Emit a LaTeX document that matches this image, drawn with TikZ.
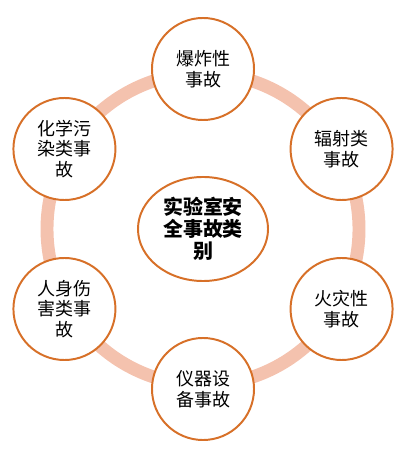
\documentclass[tikz,border=0pt]{standalone}
\usepackage{fontspec}
\newfontfamily\cjk{Noto Sans CJK SC}
\usepackage{tikz}
\usetikzlibrary{shapes.geometric, calc}
\definecolor{ringpink}{HTML}{F4C2AE}
\definecolor{edgeorange}{HTML}{D77028}
\tikzset{every picture/.style={line width=0.75pt}}

\begin{document}
\begin{tikzpicture}[x=0.025cm,y=0.025cm,align=center,
        accident/.style={circle, draw=edgeorange, line width=1.4pt, fill=white,
            minimum size=2.55cm, inner sep=0pt, font=\cjk\fontsize{12.8}{14.6}\selectfont},
        hub/.style={ellipse, draw=edgeorange, line width=1.4pt, fill=white,
            minimum width=3.25cm, minimum height=2.6cm, inner sep=0pt,
            font=\cjk\bfseries\fontsize{14.2}{15.6}\selectfont},
        ring/.style={draw=ringpink, line width=9.2pt}]
        \useasboundingbox (0,0) rectangle (410,453);
        \node[hub] (center) at (203,224) {实验室安\\全事故类\\别};
        \draw[ring] (center) circle (156);
        \node[accident] (blast) at ($(center)+(90:160)$) {爆炸性\\事故};
        \node[accident] (radiation) at ($(center)+(30:160)$) {辐射类\\事故};
        \node[accident] (fire) at ($(center)+(-30:160)$) {火灾性\\事故};
        \node[accident] (device) at ($(center)+(-90:160)$) {仪器设\\备事故};
        \node[accident] (injury) at ($(center)+(-150:160)$) {人身伤\\害类事\\故};
        \node[accident] (chemical) at ($(center)+(150:160)$) {化学污\\染类事\\故};
    \end{tikzpicture}
\end{document}
